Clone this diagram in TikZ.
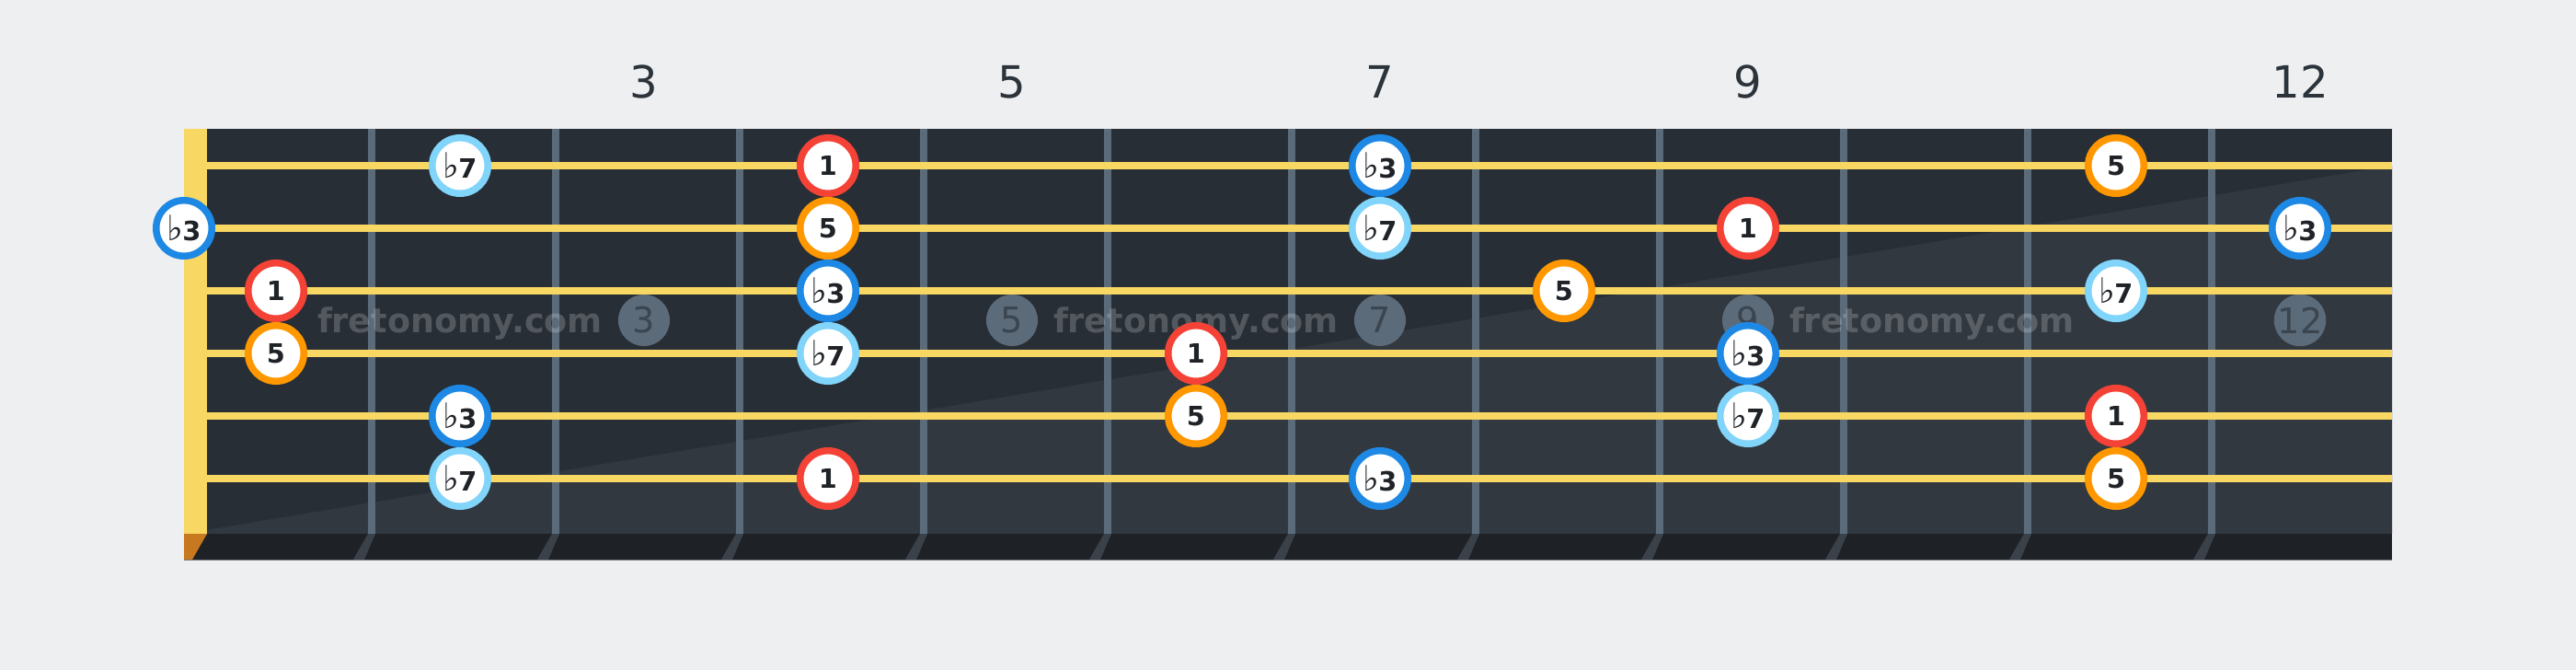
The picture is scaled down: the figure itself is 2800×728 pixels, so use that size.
\documentclass[tikz,border=0pt]{standalone}
\usepackage{fontspec}
\setmainfont{DejaVu Sans}
\usepackage{tikz}

\definecolor{pagebg}{HTML}{EEEFF1}
\definecolor{boarddark}{HTML}{282E36}
\definecolor{boardlight}{HTML}{313840}
\definecolor{binding}{HTML}{1E2227}
\definecolor{bindingedge}{HTML}{6F7781}
\definecolor{fretshadow}{HTML}{3B4149}
\definecolor{fretwire}{HTML}{5B6B79}
\definecolor{stringcol}{HTML}{F8D862}
\definecolor{nutbase}{HTML}{C8781E}
\definecolor{rootred}{HTML}{F44336}
\definecolor{fifthorange}{HTML}{FF9800}
\definecolor{thirdblue}{HTML}{1E88E5}
\definecolor{seventhblue}{HTML}{81D4FA}
\definecolor{labeltext}{HTML}{1F2328}
\definecolor{numtext}{HTML}{2B333B}
\definecolor{dotnum}{HTML}{3A4550}

\newcommand{\flatof}[1]{{\fontsize{10.8}{10.8}\selectfont\mdseries ♭}\kern-0.3pt#1}

\tikzset{
  note/.style={circle, fill=white, line width=0.075cm, minimum size=0.605cm,
    inner sep=0pt, text=labeltext, font=\fontsize{8.2}{8.2}\selectfont\bfseries},
  rootnote/.style={note, draw=rootred},
  fifthnote/.style={note, draw=fifthorange},
  thirdnote/.style={note, draw=thirdblue},
  seventhnote/.style={note, draw=seventhblue},
  fretnum/.style={text=numtext, inner sep=0pt, font=\fontsize{13.7}{13.7}\selectfont},
  fretdot/.style={circle, fill=fretwire, minimum size=0.56cm, inner sep=0pt,
    text=dotnum, font=\fontsize{10.9}{10.9}\selectfont},
  watermark/.style={anchor=base, inner sep=0pt, text=white, text opacity=0.2,
    font=\fontsize{10.4}{10.4}\selectfont\bfseries},
}

\begin{document}
\begin{tikzpicture}[x=0.01cm, y=-0.01cm]
  \fill[pagebg] (0,0) rectangle (2800,728);
  \useasboundingbox (0,0) rectangle (2800,728);

  % fretboard
  \fill[boarddark] (200,140) rectangle (2600,580);
  \fill[boardlight] (200,580) -- (2600,580) -- (2600,180) -- cycle;
  \fill[binding] (200,580) rectangle (2600,608);
  \draw[bindingedge, line width=0.01cm] (200,608.5) -- (2600,608.5);
  \fill[nutbase] (200,580) -- (225,580) -- (209,608) -- (200,608) -- cycle;
  \fill[stringcol] (200,140) rectangle (225,580);

  \foreach \f in {1,...,11} {
    \fill[fretshadow] ({200+200*\f},580) -- ({208+200*\f},580) -- ({196+200*\f},608) -- ({184+200*\f},608) -- cycle;
    \draw[fretwire, line width=0.08cm] ({204+200*\f},140) -- ({204+200*\f},580);
  }

  % inlays and watermark
  \foreach \f in {3,5,7,9,12}
    \node[fretdot] (dot\f) at ({100+200*\f},348) {\f};
  \node[watermark] (wma) at (500,362) {fretonomy.com};
  \node[watermark] (wmb) at (1300,362) {fretonomy.com};
  \node[watermark] (wmc) at (2100,362) {fretonomy.com};

  % strings
  \foreach \y in {180,248,316,384,452,520}
    \draw[stringcol, line width=0.08cm] (225,\y) -- (2600,\y);

  % fret numbers
  \foreach \f in {3,5,7,9,12}
    \node[fretnum] (num\f) at ({100+200*\f},89) {\f};

  % string 1
  \node[seventhnote] (s1f2) at (500,180) {\flatof{7}};
  \node[rootnote] (s1f4) at (900,180) {1};
  \node[thirdnote] (s1f7) at (1500,180) {\flatof{3}};
  \node[fifthnote] (s1f11) at (2300,180) {5};

  % string 2
  \node[thirdnote] (s2f0) at (200,248) {\flatof{3}};
  \node[fifthnote] (s2f4) at (900,248) {5};
  \node[seventhnote] (s2f7) at (1500,248) {\flatof{7}};
  \node[rootnote] (s2f9) at (1900,248) {1};
  \node[thirdnote] (s2f12) at (2500,248) {\flatof{3}};

  % string 3
  \node[rootnote] (s3f1) at (300,316) {1};
  \node[thirdnote] (s3f4) at (900,316) {\flatof{3}};
  \node[fifthnote] (s3f8) at (1700,316) {5};
  \node[seventhnote] (s3f11) at (2300,316) {\flatof{7}};

  % string 4
  \node[fifthnote] (s4f1) at (300,384) {5};
  \node[seventhnote] (s4f4) at (900,384) {\flatof{7}};
  \node[rootnote] (s4f6) at (1300,384) {1};
  \node[thirdnote] (s4f9) at (1900,384) {\flatof{3}};

  % string 5
  \node[thirdnote] (s5f2) at (500,452) {\flatof{3}};
  \node[fifthnote] (s5f6) at (1300,452) {5};
  \node[seventhnote] (s5f9) at (1900,452) {\flatof{7}};
  \node[rootnote] (s5f11) at (2300,452) {1};

  % string 6
  \node[seventhnote] (s6f2) at (500,520) {\flatof{7}};
  \node[rootnote] (s6f4) at (900,520) {1};
  \node[thirdnote] (s6f7) at (1500,520) {\flatof{3}};
  \node[fifthnote] (s6f11) at (2300,520) {5};
\end{tikzpicture}
\end{document}
